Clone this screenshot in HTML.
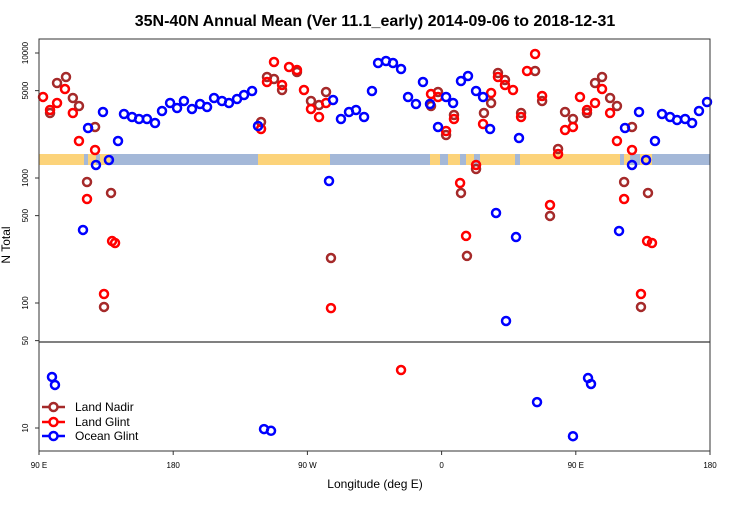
<!DOCTYPE html>
<html><head><meta charset="utf-8"><style>
body{margin:0;background:#fff;}
svg text{font-family:"Liberation Sans",sans-serif;}
</style></head><body>
<svg id="chart" width="750" height="500" xmlns="http://www.w3.org/2000/svg">
<text x="375" y="26" text-anchor="middle" font-size="16" font-weight="bold">35N-40N Annual Mean (Ver 11.1_early)   2014-09-06 to 2018-12-31</text>
<g id="band">
<rect x="39" y="154" width="671" height="11" fill="#a4b8d8"/>
<rect x="39" y="154" width="45" height="11" fill="#fcd37a"/>
<rect x="88" y="154" width="8" height="11" fill="#fcd37a"/>
<rect x="100" y="154" width="10" height="11" fill="#fcd37a"/>
<rect x="258" y="154" width="72" height="11" fill="#fcd37a"/>
<rect x="430" y="154" width="10" height="11" fill="#fcd37a"/>
<rect x="448" y="154" width="12" height="11" fill="#fcd37a"/>
<rect x="466" y="154" width="8" height="11" fill="#fcd37a"/>
<rect x="480" y="154" width="35" height="11" fill="#fcd37a"/>
<rect x="520" y="154" width="100" height="11" fill="#fcd37a"/>
<rect x="624" y="154" width="6" height="11" fill="#fcd37a"/>
<rect x="640" y="154" width="12" height="11" fill="#fcd37a"/>
</g>
<line x1="39" y1="342" x2="710" y2="342" stroke="#000" stroke-width="1"/>
<g id="axes"></g>
<g id="marks"></g>
<rect x="39" y="39" width="671" height="412" fill="none" stroke="#333" stroke-width="1"/>
<text x="375" y="488" text-anchor="middle" font-size="12">Longitude (deg E)</text>
<text transform="translate(10,245) rotate(-90)" text-anchor="middle" font-size="12">N Total</text>
<g>
<g><line x1="42" y1="407" x2="65" y2="407" stroke="#a52a2a" stroke-width="2.5"/><circle cx="53.5" cy="407" r="4" fill="#fff" stroke="#a52a2a" stroke-width="2.5"/><text x="75" y="411" font-size="12">Land Nadir</text></g>
<g><line x1="42" y1="422" x2="65" y2="422" stroke="#ff0000" stroke-width="2.5"/><circle cx="53.5" cy="422" r="4" fill="#fff" stroke="#ff0000" stroke-width="2.5"/><text x="75" y="426" font-size="12">Land Glint</text></g>
<g><line x1="42" y1="436" x2="65" y2="436" stroke="#0000ff" stroke-width="2.5"/><circle cx="53.5" cy="436" r="4" fill="#fff" stroke="#0000ff" stroke-width="2.5"/><text x="75" y="440" font-size="12">Ocean Glint</text></g>
</g>
</svg>
<script>
const xTickVals=[90,180,270,360,450,540];
const xTickLabels=["90 E","180","90 W","0","90 E","180"];
const yTickVals=[10000,5000,1000,500,100,50,10];
const yTickLabels=["10000","5000","1000","500","100","50","10"];
const nadirLon=[97.4,102.1,108.1,112.7,116.8,127.6,122.2,138.3,133.6,238.9,242.9,247.6,253,263,272.4,277.8,282.5,285.8,352.9,357.6,363,368.3,373,377,383.1,388.4,393.2,397.8,402.5,413.3,422.7,427.4,432.7,438.1,442.8,448.1,457.5,462.9,467.6,473,477.6,482.4,487.7,493.7,498.4];
const nadirVal=[3311,5754,6427,4365,3767,2559,929,759,93,2805,6427,6194,5058,7047,4130,3837,4875,229,3767,4875,2208,3192,759,238,1180,3311,3981,6918,6081,3311,7178,4130,497,1706,3373,2965,3311,5754,6427,4365,3767,929,2559,93,759];
const glintLon=[92.7,97.4,102.1,107.4,112.7,116.8,127.6,122.2,139,141,133.6,238.9,242.9,247.6,253,257.7,263,267.7,272.4,277.8,282.5,285.8,332.8,352.9,357.6,363,368.3,372.4,376.4,383.1,387.8,393.2,397.8,402.5,407.9,413.3,417.3,422.7,427.4,432.7,438.1,442.8,448.1,452.8,457.5,462.9,467.6,473,477.6,482.4,487.7,493.7,497.8,501.1];
const glintVal=[4450,3500,3980,5150,3311,1977,1675,679,313,302,118,2466,5861,8472,5546,7727,7311,5058,3565,3076,3981,91,29.1,4699,4446,2377,2965,912,344,1271,2704,4786,6427,5546,5058,3076,7178,9817,4529,608,1556,2421,2559,4446,3499,3981,5152,3311,1977,679,1675,118,313,302];
const oceanLon=[98.7,100.7,119.5,122.9,128.2,132.9,136.9,143,147,152.4,157.1,162.4,167.8,172.5,177.9,182.6,187.2,192.6,198,202.7,207.4,212.7,217.4,222.8,227.5,232.9,236.9,240.9,245.6,284.5,287.2,292.5,297.9,302.6,308,313.3,317.4,322.7,327.4,332.8,337.5,342.8,347.5,352.2,357.6,363,367.7,373,377.7,383.1,387.8,392.5,396.5,403.2,409.9,411.9,424,448.1,458.2,460.2,479,483,487.7,492.4,497.1,503.1,507.8,513.2,517.9,523.3,528,532.6,538];
const oceanVal=[25.6,22.1,384,2512,1271,3373,1393,1977,3251,3076,2965,2965,2754,3436,3981,3631,4130,3565,3908,3698,4365,4130,3981,4285,4613,4966,2606,9.8,9.5,946,4207,2965,3373,3499,3076,4966,8318,8630,8318,7447,4446,3908,5861,3908,2559,4446,3981,5970,6546,4966,4446,2466,525,71.8,337,2089,16.1,8.6,25.1,22.5,377,2512,1271,3373,1393,1977,3251,3076,2911,2965,2754,3436,4055];

const X0=39,X1=710,LON0=90,LON1=540;
function xs(lon){return X0+(lon-LON0)*(X1-X0)/(LON1-LON0);}
function ys(v){return 178-125*(Math.log10(v)-3);}
const NS="http://www.w3.org/2000/svg";
const axes=document.getElementById('axes');
function mk(tag,attrs,parent){const e=document.createElementNS(NS,tag);for(const k in attrs)e.setAttribute(k,attrs[k]);parent.appendChild(e);return e;}
xTickVals.forEach((v,i)=>{
  const x=xs(v);
  const t=mk('line',{x1:x,y1:451,x2:x,y2:455,stroke:'#333'},axes);
  
  
  const l=mk('text',{x:x,y:468,'text-anchor':'middle','font-size':8},axes);
  l.textContent=xTickLabels[i];
  
  
});
yTickVals.forEach((v,i)=>{
  const y=ys(v);
  const t=mk('line',{x1:35,y1:y,x2:39,y2:y,stroke:'#333'},axes);
  
  
  const l=mk('text',{transform:'translate(28,'+y+') rotate(-90)','text-anchor':'middle','font-size':8},axes);
  l.textContent=yTickLabels[i];
  
  
});
const marks=document.getElementById('marks');
function series(lons,vals,color,name){
  const g=mk('g',{},marks);
  
  
  lons.forEach((lon,i)=>{
    const c=mk('circle',{cx:xs(lon),cy:ys(vals[i]),r:4,fill:'none',stroke:color,'stroke-width':2.5},g);
    
    
  });
}
series(nadirLon,nadirVal,'#a52a2a','land-nadir');
series(glintLon,glintVal,'#ff0000','land-glint');
series(oceanLon,oceanVal,'#0000ff','ocean-glint');
</script>
</body></html>
